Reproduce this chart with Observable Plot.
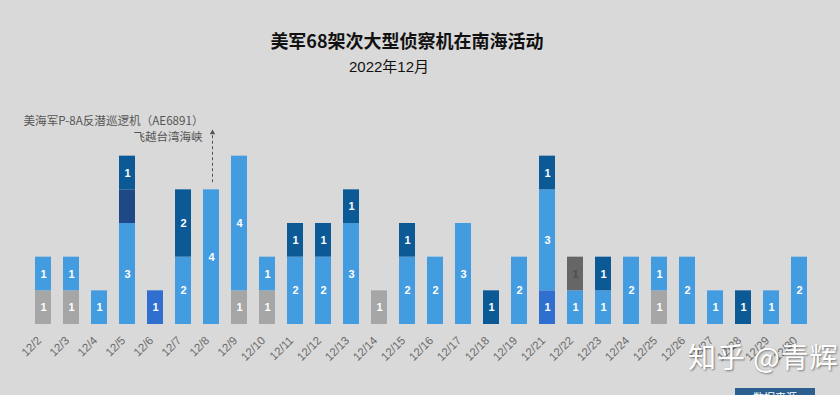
<!DOCTYPE html>
<html><head><meta charset="utf-8">
<script src="https://cdn.jsdelivr.net/npm/d3@7"></script>
<script src="https://cdn.jsdelivr.net/npm/@observablehq/plot@0.6"></script>
<style>
html,body{margin:0;padding:0;background:#d9d9d9;width:840px;height:395px;overflow:hidden;font-family:"Noto Sans CJK SC","Liberation Sans",sans-serif;}
#wrap{position:relative;width:840px;height:395px;overflow:hidden;}
#title{position:absolute;top:27px;left:0;width:814px;text-align:center;font-size:18px;font-weight:bold;color:#111;line-height:26px;}
#subtitle{position:absolute;top:56px;left:0;width:778px;text-align:center;font-size:15px;color:#111;line-height:22px;font-family:"Liberation Sans","Noto Sans CJK SC",sans-serif;}
#chart{position:absolute;top:90px;left:0;}
#legend{position:absolute;top:389px;left:0;width:840px;height:20px;}
.item{position:absolute;top:2px;display:flex;align-items:center;font-size:12px;color:#555;white-space:nowrap;}
.sw{width:10px;height:10px;margin-right:4px;display:inline-block;}
#src{position:absolute;top:388px;left:735px;width:80px;height:18px;background:#2a5f8f;color:#fff;font-size:11px;text-align:center;line-height:18px;}
#wm{position:absolute;top:336px;left:688px;font-size:28px;color:#fff;text-shadow:1px 1px 2px rgba(0,0,0,0.45);letter-spacing:1px;}
</style></head>
<body><div id="wrap">
<div id="title">美军68架次大型侦察机在南海活动</div>
<div id="subtitle">2022年12月</div>
<div id="chart"></div>
<div id="legend"></div>
<div id="src">数据来源</div>
<div id="wm">知乎 @青辉</div>
</div>
<script>
const dates = ["12/2","12/3","12/4","12/5","12/6","12/7","12/8","12/9","12/10","12/11","12/12","12/13","12/14","12/15","12/16","12/17","12/18","12/19","12/21","12/22","12/23","12/24","12/25","12/26","12/27","12/28","12/29","12/30"];
// stack order, bottom to top
const types = ["MQ-4C","EP-3E","P-8A","E-8C","RC-135","U-2S"];
const colors = ["#a6a6a6","#2f6fcf","#449ce0","#1d4a86","#0b5a96","#666666"];
const mq4c  = [1,1,0,0,0,0,0,1,1,0,0,0,1,0,0,0,0,0,0,0,0,0,1,0,0,0,0,0];
const ep3e  = [0,0,0,0,1,0,0,0,0,0,0,0,0,0,0,0,0,0,1,0,0,0,0,0,0,0,0,0];
const p8a   = [1,1,1,3,0,2,4,4,1,2,2,3,0,2,2,3,0,2,3,1,1,2,1,2,1,0,1,2];
const e8c   = [0,0,0,1,0,0,0,0,0,0,0,0,0,0,0,0,0,0,0,0,0,0,0,0,0,0,0,0];
const rc135 = [0,0,0,1,0,2,0,0,0,1,1,1,0,1,0,0,1,0,1,0,1,0,0,0,0,1,0,0];
const u2s   = [0,0,0,0,0,0,0,0,0,0,0,0,0,0,0,0,0,0,0,1,0,0,0,0,0,0,0,0];
const annoLines1 = ["美海军P-8A反潜巡逻机（AE6891）"];
const annoLines2 = ["飞越台湾海峡"];
const annoDates = ["12/8"];

const series = [mq4c, ep3e, p8a, e8c, rc135, u2s];
const rows = [];
dates.forEach((d, i) => types.forEach((t, j) => { if (series[j][i] > 0) rows.push({date: d, type: t, value: series[j][i]}); }));
const totals = new Map(dates.map(d => [d, d3.sum(rows.filter(r => r.date === d), r => r.value)]));
const anno = annoDates.map((d, i) => ({date: d, total: totals.get(d), line1: annoLines1[i], line2: annoLines2[i]}));

const stackOpts = {x: "date", y: "value", z: "type", order: types};
const chart = Plot.plot({
  width: 840, height: 305,
  marginLeft: 19, marginRight: 17, marginTop: 32, marginBottom: 71,
  style: {background: "transparent", fontFamily: "'Liberation Sans','Noto Sans CJK SC',sans-serif"},
  x: {domain: dates, padding: 0.43, label: null},
  y: {domain: [0, 6], axis: null},
  color: {domain: types, range: colors},
  marks: [
    Plot.axisX({tickSize: 0, tickRotate: -45, tickPadding: 5, dx: -4, dy: 9, fontSize: 11.5, fill: "#6a6a6a", label: null}),
    Plot.barY(rows, {x: "date", y: "value", fill: "type", order: types}),
    Plot.text(rows, Plot.stackY({...stackOpts, text: d => (d.type === "E-8C" || d.type === "U-2S") ? "" : String(d.value), fill: "white", fontWeight: "bold", fontSize: 11})),
    Plot.text(rows, Plot.stackY({...stackOpts, text: d => d.type === "U-2S" ? String(d.value) : "", fill: "#4f4f4f", fontWeight: "bold", fontSize: 11})),
    Plot.ruleX(anno, {x: "date", y1: d => d.total + 0.21, y2: d => d.total + 1.66, stroke: "#555", strokeWidth: 1, strokeDasharray: "3,2.5", dx: 1}),
    Plot.dot(anno, {x: "date", y: d => d.total + 1.7, symbol: "triangle", r: 2, fill: "#555", dx: 1}),
    Plot.text(anno, {x: "date", y: d => d.total + 2.03, text: "line1", textAnchor: "end", dx: -8, fontSize: 11.6, fill: "#555", fontFamily: "'Noto Sans CJK SC',sans-serif"}),
    Plot.text(anno, {x: "date", y: d => d.total + 1.56, text: "line2", textAnchor: "end", dx: -9, fontSize: 11.5, fill: "#555", fontFamily: "'Noto Sans CJK SC',sans-serif"})
  ]
});
document.getElementById("chart").appendChild(chart);

const legendX = [80, 200, 323, 440, 537, 640];
const leg = document.getElementById("legend");
types.forEach((t, i) => {
  const it = document.createElement("div");
  it.className = "item";
  it.style.left = legendX[i] + "px";
  it.innerHTML = `<span class="sw" style="background:${colors[i]}"></span>${t}`;
  leg.appendChild(it);
});
</script>
</body></html>
